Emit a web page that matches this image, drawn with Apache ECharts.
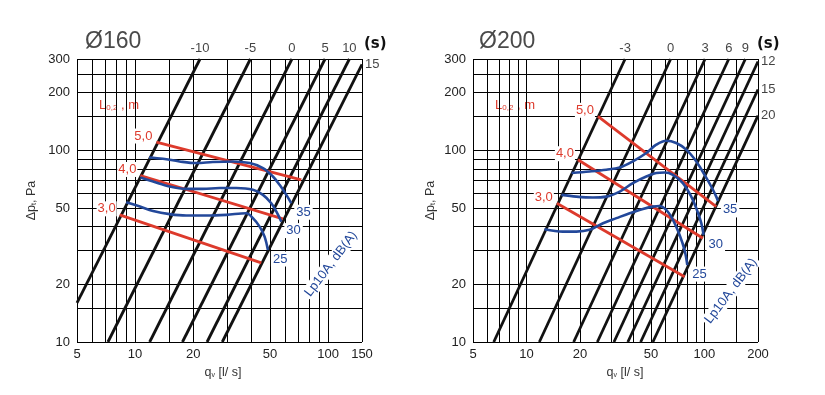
<!DOCTYPE html>
<html><head><meta charset="utf-8">
<script src="https://cdn.jsdelivr.net/npm/echarts@6/dist/echarts.min.js"></script>
<style>html,body{margin:0;padding:0;background:#fff}#c{width:825px;height:395px}</style>
</head><body><div id="c"></div>
<script>
// ---------------- data ----------------
const xGridLeft = [5,6,7,8,9,10,15,20,30,40,50,60,70,80,90,100,150];
const xLabelsLeft = [5,10,20,50,100,150];
const xGridRight = [5,6,7,8,9,10,15,20,30,40,50,60,70,80,90,100,150,200];
const xLabelsRight = [5,10,20,50,100,200];
const yGrid = [10,15,20,30,40,50,60,70,80,90,100,150,200,250,300];
const yLabels = [10,20,50,100,200,300];

// damper setting lines (s): start / end points [q l/s, dp Pa]
const sNamesLeft = ['-10','-5','0','5','10','15'];
const sStartLeft = [[5,16],[7.23,10],[11.9,10],[17.6,10],[23.6,10],[28.3,10]];
const sEndLeft   = [[21.7,300],[39.6,300],[65,300],[96.5,300],[129,300],[150,281]];

const sNamesRight = ['-3','0','3','6','9','12','15','20'];
const sStartRight = [[6.54,10],[11.8,10],[18.4,10],[25.0,10],[31.0,10],[37.1,10],[43.8,10],[51.3,10]];
const sEndRight   = [[35.8,300],[64.6,300],[100.8,300],[137,300],[169.8,300],[200,291],[200,208],[200,152]];

// throw length L0,2 (m)
const lNames = ['3,0','4,0','5,0'];
const lStartLeft  = [[8.32,46.1],[10.65,74.0],[12.9,110.6]];
const lEndLeft    = [[45.1,25.9],[58.4,43.9],[72.7,70.2]];
const lStartRight = [[14.8,53.0],[19.45,89.4],[25.2,150.7]];
const lEndRight   = [[77.3,21.9],[98.0,34.8],[116.5,50.9]];

// sound level Lp10A dB(A)
const nNames = ['25','30','35'];
const n25Left = [[9.0,53.7],[10.6,50.9],[12.4,48.3],[15.1,46.5],[18.4,45.7],[23.4,45.7],[29.7,46.1],[37.7,47.0],[40.8,44.3],[44.2,40.0],[46.9,35.5],[48.8,30.2]];
const n30Left = [[10.65,72.2],[12.4,68.8],[15.1,64.8],[18.4,63.0],[22.5,63.0],[27.4,63.6],[33.5,63.6],[40.8,62.3],[46.0,58.6],[50.8,53.0],[54.0,47.9],[57.3,42.5]];
const n35Left = [[11.8,91.9],[13.95,90.5],[17.0,87.6],[20.8,85.9],[25.3,87.0],[32.2,87.6],[39.3,85.9],[46.0,80.9],[51.8,73.1],[56.1,66.1],[60.8,58.6],[64.5,53.0]];
const n25Right = [[12.6,38.8],[16.0,37.7],[19.05,37.7],[22.6,38.5],[26.9,41.7],[32.0,44.3],[38.0,47.0],[45.1,49.5],[51.3,50.9],[55.9,51.3],[61.0,48.9],[66.5,43.4],[72.5,36.2],[77.3,30.2],[80.1,25.2]];
const n30Right = [[15.7,58.6],[19.05,57.4],[23.6,56.8],[28.1,57.4],[33.4,61.0],[39.6,67.5],[47.1,73.1],[53.6,76.2],[59.7,76.7],[66.5,74.6],[75.6,67.5],[84.3,57.4],[90.0,49.9],[96.0,41.7],[98.9,36.2]];
const n35Right = [[17.9,76.2],[22.6,77.6],[28.1,79.3],[33.4,81.5],[39.6,87.6],[47.1,96.9],[53.6,107.1],[61.0,112.4],[69.4,109.3],[79.0,100.9],[90.0,87.6],[100.2,74.6],[109.2,64.8],[116.5,57.4],[119,54.5]];

// ---------------- styling ----------------
const FONT = '"Liberation Sans", Arial, sans-serif';
const RED = '#dd3a2c';
const BLUE = '#23489a';
const Y_MAX = 300;

const chart = echarts.init(document.getElementById('c'), null, {renderer: 'canvas'});

function xAxisCfg(gi, max, grid, labels, pad) {
  return {
    type: 'log', logBase: 10, gridIndex: gi, min: 5, max: max,
    name: 'q{s|v} [l/ s]', nameLocation: 'middle', nameGap: 20,
    nameTextStyle: {fontFamily: FONT, fontSize: 12.5, color: '#333', padding: [0, 0, 0, pad],
      rich: {s: {fontSize: 7, fontFamily: FONT, color: '#333', padding: [6, 0, 0, 0]}}},
    axisLine: {show: false},
    axisTick: {show: false, customValues: grid},
    splitLine: {show: true, lineStyle: {color: '#000', width: 1}},
    axisLabel: {customValues: labels, margin: 6, fontSize: 13, color: '#222', fontFamily: FONT},
    z: 1
  };
}
function yAxisCfg(gi, gap) {
  return {
    type: 'log', logBase: 10, gridIndex: gi, min: 10, max: 300,
    name: 'Δp{s|t}, Pa', nameLocation: 'middle', nameGap: gap,
    nameTextStyle: {fontFamily: FONT, fontSize: 12.5, color: '#333',
      rich: {s: {fontSize: 7, fontFamily: FONT, color: '#333', padding: [6, 0, 0, 0]}}},
    axisLine: {show: false},
    axisTick: {show: false, customValues: yGrid},
    splitLine: {show: true, lineStyle: {color: '#000', width: 1}},
    axisLabel: {customValues: yLabels, margin: 7, fontSize: 13, color: '#222', fontFamily: FONT},
    z: 1
  };
}

function buildSeries(gi, sNames, sStart, sEnd, lStart, lEnd, noise) {
  const out = [];
  sNames.forEach((n, i) => {
    out.push({
      type: 'line', xAxisIndex: gi, yAxisIndex: gi, name: 's' + n,
      data: [sStart[i], sEnd[i]], symbol: 'none', clip: true, silent: true,
      lineStyle: {color: '#111', width: 2.8}, z: 2
    });
  });
  out.push({
    type: 'scatter', xAxisIndex: gi, yAxisIndex: gi, symbolSize: 0, clip: false, silent: true, z: 6,
    data: sNames.map((n, i) => ({
      value: sEnd[i],
      label: {show: true, formatter: n, position: sEnd[i][1] >= Y_MAX ? 'top' : 'right',
        distance: sEnd[i][1] >= Y_MAX ? 4 : 3,
        fontFamily: FONT, fontSize: 13, color: '#111'}
    }))
  });
  lNames.forEach((n, i) => {
    out.push({
      type: 'line', xAxisIndex: gi, yAxisIndex: gi, name: 'L' + n,
      data: [{value: lStart[i], label: {show: true, formatter: n, position: 'left', distance: 3, offset: [0, -6],
               color: RED, fontFamily: FONT, fontSize: 13, backgroundColor: '#fff', padding: [1, 1]}},
             {value: lEnd[i]}],
      symbol: 'circle', symbolSize: 0, showSymbol: true, clip: true, silent: true,
      lineStyle: {color: RED, width: 2.8}, z: 3
    });
  });
  noise.forEach((pts, i) => {
    out.push({
      type: 'line', xAxisIndex: gi, yAxisIndex: gi, name: 'Lp' + nNames[i],
      data: pts.map((p, j) => j === pts.length - 1
        ? {value: p, label: {show: true, formatter: nNames[i], position: 'right', distance: 3, offset: [0, 9],
            color: BLUE, fontFamily: FONT, fontSize: 13, backgroundColor: '#fff', padding: [1, 2]}}
        : {value: p}),
      symbol: 'circle', symbolSize: 0, showSymbol: true, smooth: 0.35, clip: true, silent: true,
      lineStyle: {color: BLUE, width: 2.6}, z: 4
    });
  });
  return out;
}

const option = {
  animation: false,
  backgroundColor: '#fff',
  grid: [
    {left: 77, top: 59, width: 285, height: 283},
    {left: 473, top: 59, width: 285, height: 283}
  ],
  xAxis: [xAxisCfg(0, 150, xGridLeft, xLabelsLeft, 7), xAxisCfg(1, 200, xGridRight, xLabelsRight, 19)],
  yAxis: [yAxisCfg(0, 39), yAxisCfg(1, 36)],
  title: [
    {text: 'Ø160', left: 85, top: 30, padding: 0, textStyle: {fontFamily: FONT, fontSize: 23, fontWeight: 'normal', color: '#4a4a4a'}},
    {text: 'Ø200', left: 479, top: 30, padding: 0, textStyle: {fontFamily: FONT, fontSize: 23, fontWeight: 'normal', color: '#4a4a4a'}}
  ],
  graphic: [
    {type: 'text', left: 364, top: 37, style: {text: '(s)', font: 'bold 15px "DejaVu Sans", sans-serif', fill: '#111'}},
    {type: 'text', left: 757, top: 37, style: {text: '(s)', font: 'bold 15px "DejaVu Sans", sans-serif', fill: '#111'}},
    {type: 'text', x: 99, y: 99, style: {text: 'L{s|0,2} , m', fill: RED, font: '13px ' + FONT,
      rich: {s: {fontSize: 8, fill: RED, fontFamily: FONT, padding: [5, 0, 0, 0]}}}},
    {type: 'text', x: 495, y: 99, style: {text: 'L{s|0,2} , m', fill: RED, font: '13px ' + FONT,
      rich: {s: {fontSize: 8, fill: RED, fontFamily: FONT, padding: [5, 0, 0, 0]}}}},
    {type: 'text', x: 331, y: 264, rotation: 53 * Math.PI / 180, z: 10,
      style: {text: 'Lp10A, dB(A)', fill: BLUE, font: '13px ' + FONT, align: 'center', verticalAlign: 'middle', backgroundColor: '#fff', padding: [1, 2]}},
    {type: 'text', x: 731, y: 291, rotation: 53 * Math.PI / 180, z: 10,
      style: {text: 'Lp10A, dB(A)', fill: BLUE, font: '13px ' + FONT, align: 'center', verticalAlign: 'middle', backgroundColor: '#fff', padding: [1, 2]}}
  ],
  series: [].concat(
    buildSeries(0, sNamesLeft, sStartLeft, sEndLeft, lStartLeft, lEndLeft, [n25Left, n30Left, n35Left]),
    buildSeries(1, sNamesRight, sStartRight, sEndRight, lStartRight, lEndRight, [n25Right, n30Right, n35Right])
  )
};
chart.setOption(option);
</script></body></html>
